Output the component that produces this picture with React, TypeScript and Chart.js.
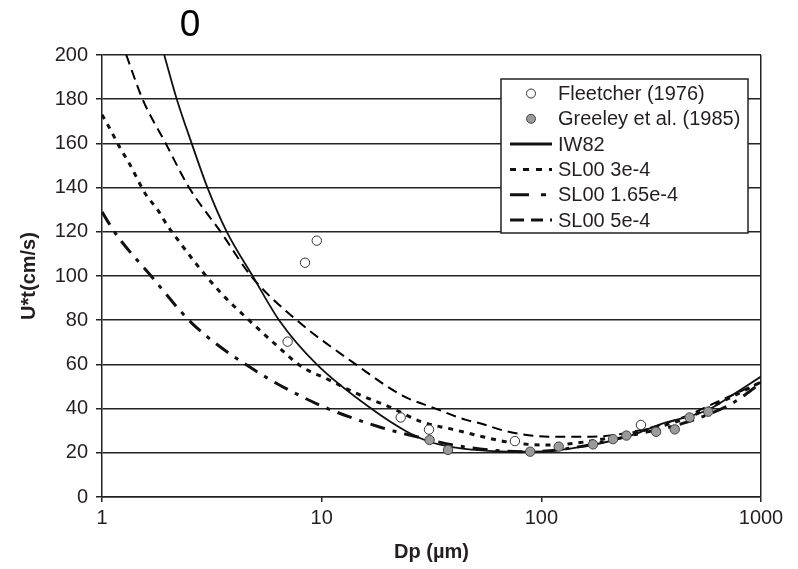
import React, { useEffect, useRef } from 'react';
import { Chart, registerables } from 'chart.js';

Chart.register(...registerables);

// ---------- data ----------
const xTicks = [1, 10, 100, 1000];

const fleetcherX = [7.0, 8.4, 9.5, 22.9, 30.8, 75.8, 284];
const fleetcherY = [70.3, 106, 116, 36, 30.5, 25.3, 32.6];

const greeleyX = [31, 37.6, 89, 120, 172, 212, 244, 333, 405, 473, 575];
const greeleyY = [25.8, 21.3, 20.5, 22.8, 23.8, 26.2, 27.8, 29.5, 30.6, 36, 38.6];

const iw82X = [1.92, 2.19, 2.56, 3.02, 3.7, 4.85, 6.4, 9.5, 16.8, 24, 31, 40, 60, 90, 120, 159, 200, 259, 350, 470, 575, 750, 1000];
const iw82Y = [200, 180, 160, 140, 120, 100, 80, 60, 40, 30, 25, 22.5, 20.8, 20.5, 21.2, 23, 25, 28, 33, 36.5, 39.5, 46.5, 54.5];

const sl3X = [1, 1.095, 1.2, 1.33, 1.58, 1.79, 1.98, 2.16, 2.76, 3.5, 4.67, 6.2, 8.1, 10.8, 14.3, 20.2, 28.6, 40.7, 54, 69, 105, 160, 260, 440, 600, 1000];
const sl3Y = [173, 166, 158.5, 151, 137, 130, 123, 117.8, 104, 92, 80, 68.8, 59, 53, 47, 40.9, 34, 30.3, 27.3, 25, 23.5, 25, 29, 35, 41, 52];

const sl165X = [1, 1.11, 1.23, 1.64, 2.57, 4.67, 9.4, 18.2, 28.6, 40, 57.7, 90, 150, 260, 440, 740, 1000];
const sl165Y = [129, 121.7, 115.5, 101, 78.6, 59, 42.4, 31.8, 26.7, 23.5, 21.3, 20.5, 22.8, 28, 33.3, 42.4, 51.6];

const sl5X = [1.29, 1.53, 1.95, 2.49, 3.47, 4.77, 7.7, 14.3, 23.2, 33, 45, 52, 71, 108, 170, 260, 440, 600, 1000];
const sl5Y = [200, 180, 160, 140, 120, 100, 80, 60, 46, 40, 35, 33.5, 29.5, 27.3, 27.3, 29.5, 36, 42, 52];

const labels = ['Fleetcher (1976)', 'Greeley et al. (1985)', 'IW82', 'SL00 3e-4', 'SL00 1.65e-4', 'SL00 5e-4'];

const pts = (xs: number[], ys: number[]) => xs.map((x, i) => ({ x, y: ys[i] }));

const FONT = "'Liberation Sans', Arial, Helvetica, sans-serif";
const INK = '#231f20';

type LegendItem = { kind: 'point' | 'line'; fill?: string; stroke?: string; dash?: number[]; width?: number };
const legendStyles: LegendItem[] = [
  { kind: 'point', fill: '#ffffff', stroke: '#333333' },
  { kind: 'point', fill: '#9a9a9a', stroke: '#444444' },
  { kind: 'line', dash: [], width: 3 },
  { kind: 'line', dash: [6, 7], width: 3 },
  { kind: 'line', dash: [19, 12, 5, 12], width: 3 },
  { kind: 'line', dash: [14, 7, 12, 7, 2, 7], width: 3 },
];

const legendPlugin = {
  id: 'customLegend',
  afterDraw(chart: any) {
    const { ctx, chartArea } = chart;
    const w = 247;
    const h = 154;
    const x0 = chartArea.right - 260;
    const y0 = chartArea.top + 24;
    ctx.save();
    ctx.fillStyle = '#ffffff';
    ctx.fillRect(x0, y0, w, h);
    ctx.strokeStyle = '#222';
    ctx.lineWidth = 1.5;
    ctx.strokeRect(x0, y0, w, h);
    ctx.font = `20px ${FONT}`;
    ctx.textBaseline = 'middle';
    ctx.textAlign = 'left';
    labels.forEach((lab, i) => {
      const cy = y0 + 14.5 + i * 25.3;
      const st = legendStyles[i];
      if (st.kind === 'point') {
        ctx.beginPath();
        ctx.arc(x0 + 30, cy, 4.5, 0, Math.PI * 2);
        ctx.fillStyle = st.fill;
        ctx.fill();
        ctx.lineWidth = 1;
        ctx.strokeStyle = st.stroke;
        ctx.setLineDash([]);
        ctx.stroke();
      } else {
        ctx.beginPath();
        ctx.setLineDash(st.dash || []);
        ctx.lineWidth = st.width || 2;
        ctx.strokeStyle = '#111';
        ctx.moveTo(x0 + 9, cy);
        ctx.lineTo(x0 + 51, cy);
        ctx.stroke();
        ctx.setLineDash([]);
      }
      ctx.fillStyle = INK;
      ctx.fillText(lab, x0 + 57, cy + 1);
    });
    ctx.restore();
  },
};

const topTextPlugin = {
  id: 'topText',
  afterDraw(chart: any) {
    const { ctx } = chart;
    ctx.save();
    ctx.font = `37px ${FONT}`;
    ctx.fillStyle = '#000';
    ctx.textAlign = 'center';
    ctx.textBaseline = 'middle';
    ctx.fillText('0', 190, 26);
    ctx.restore();
  },
};

export default function App() {
  const ref = useRef<HTMLCanvasElement | null>(null);

  useEffect(() => {
    if (!ref.current) return;
    Chart.defaults.font.family = FONT;
    const lineBase = {
      showLine: true,
      pointRadius: 0,
      pointHoverRadius: 0,
      fill: false,
      cubicInterpolationMode: 'monotone' as const,
      borderColor: '#111',
      borderCapStyle: 'butt' as const,
    };
    const chart = new Chart(ref.current, {
      type: 'scatter',
      data: {
        datasets: [
          {
            label: labels[0],
            data: pts(fleetcherX, fleetcherY),
            pointRadius: 4.7,
            pointBackgroundColor: '#ffffff',
            pointBorderColor: '#333333',
            pointBorderWidth: 1,
            showLine: false,
          },
          {
            label: labels[1],
            data: pts(greeleyX, greeleyY),
            pointRadius: 4.7,
            pointBackgroundColor: '#9a9a9a',
            pointBorderColor: '#444444',
            pointBorderWidth: 1,
            showLine: false,
          },
          { ...lineBase, label: labels[2], data: pts(iw82X, iw82Y), borderWidth: 1.8 },
          { ...lineBase, label: labels[3], data: pts(sl3X, sl3Y), borderWidth: 3, borderDash: [5, 6] },
          { ...lineBase, label: labels[4], data: pts(sl165X, sl165Y), borderWidth: 3, borderDash: [15, 8, 4, 8] },
          { ...lineBase, label: labels[5], data: pts(sl5X, sl5Y), borderWidth: 2, borderDash: [10, 6], borderColor: '#000' },
        ],
      },
      options: {
        animation: false,
        responsive: true,
        maintainAspectRatio: false,
        layout: { padding: { top: 55, right: 37, left: 0, bottom: 0 } },
        plugins: {
          legend: { display: false },
          tooltip: { enabled: false },
          title: { display: false },
        },
        scales: {
          x: {
            type: 'logarithmic',
            min: 1,
            max: 1000,
            afterBuildTicks: (s: any) => {
              s.ticks = xTicks.map((v) => ({ value: v }));
            },
            afterFit: (s: any) => {
              s.height = 72;
            },
            ticks: {
              callback: (v: any) => String(v),
              font: { size: 20 },
              color: INK,
              padding: 4,
              maxRotation: 0,
              autoSkip: false,
            },
            grid: {
              drawOnChartArea: true,
              color: (c: any) => (c.tick && c.tick.value === 1000 ? '#222' : 'rgba(0,0,0,0)'),
              tickColor: '#222',
              tickLength: 5,
              lineWidth: 1.5,
            },
            border: { display: true, color: '#222', width: 1.5 },
            title: {
              display: true,
              text: 'Dp (µm)',
              font: { size: 20, weight: 'bold' },
              color: INK,
              padding: { top: 0, bottom: 5 },
            },
          },
          y: {
            min: 0,
            max: 200,
            afterFit: (s: any) => {
              s.width = 102;
            },
            ticks: { stepSize: 20, font: { size: 20 }, color: INK, padding: 8 },
            grid: { color: '#222', lineWidth: 1.5, tickLength: 6 },
            border: { display: true, color: '#222', width: 1.5 },
            title: {
              display: true,
              text: 'U*t(cm/s)',
              font: { size: 20, weight: 'bold' },
              color: INK,
              padding: { top: 17, bottom: 0 },
            },
          },
        },
      } as any,
      plugins: [legendPlugin, topTextPlugin],
    });
    return () => chart.destroy();
  }, []);

  return (
    <div style={{ position: 'fixed', left: 0, top: 0, width: 798, height: 569, background: '#fff' }}>
      <canvas ref={ref} />
    </div>
  );
}
